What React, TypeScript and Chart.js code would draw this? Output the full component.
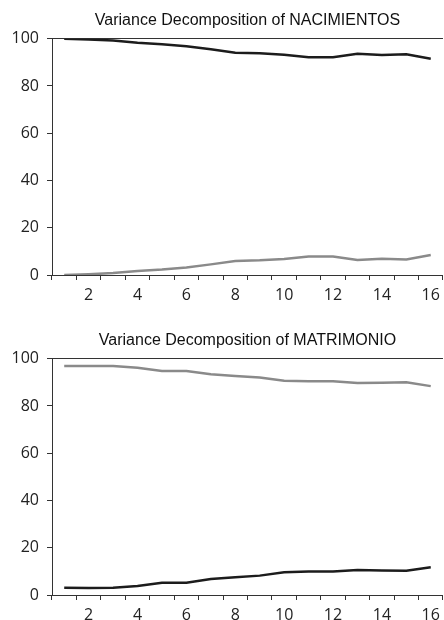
import React, { useEffect, useRef } from "react";
import { Chart, registerables } from "chart.js";
Chart.register(...registerables);

const periods = ["1", "2", "3", "4", "5", "6", "7", "8", "9", "10", "11", "12", "13", "14", "15", "16"];
const yTicks = [0, 20, 40, 60, 80, 100];

const nacTitle = "Variance Decomposition of NACIMIENTOS";
const nacFromNac = [100, 99.7, 99.2, 98.3, 97.7, 96.8, 95.5, 94.1, 93.8, 93.2, 92.2, 92.2, 93.6, 93.1, 93.4, 91.5];
const nacFromMat = [0, 0.3, 0.8, 1.7, 2.3, 3.2, 4.5, 5.9, 6.2, 6.8, 7.8, 7.8, 6.4, 6.9, 6.6, 8.5];

const matTitle = "Variance Decomposition of MATRIMONIO";
const matFromNac = [3.1, 3.0, 3.1, 3.8, 5.2, 5.2, 6.8, 7.5, 8.2, 9.6, 9.9, 9.9, 10.6, 10.4, 10.3, 11.7];
const matFromMat = [96.9, 96.9, 96.9, 96.2, 94.8, 94.8, 93.4, 92.7, 92.0, 90.7, 90.5, 90.5, 89.7, 89.8, 90.0, 88.4];

const BLACK = "#1c1c1c";
const GRAY = "#8a8a8a";
const AXIS = "#333333";
const TICK_FONT = { family: "'Open Sans', 'DejaVu Sans', sans-serif", size: 16 };

function Panel({ title, blackSeries, graySeries, top }: { title: string; blackSeries: number[]; graySeries: number[]; top: number }) {
  const ref = useRef<HTMLCanvasElement | null>(null);
  useEffect(() => {
    if (!ref.current) return;
    const chart = new Chart(ref.current, {
      type: "line",
      data: {
        labels: periods,
        datasets: [
          { label: "NACIMIENTOS", data: blackSeries, borderColor: BLACK, borderWidth: 2.5, pointRadius: 0, tension: 0, fill: false },
          { label: "MATRIMONIO", data: graySeries, borderColor: GRAY, borderWidth: 2.5, pointRadius: 0, tension: 0, fill: false },
        ],
      },
      options: {
        responsive: false,
        animation: false,
        events: [],
        layout: { padding: 0 },
        plugins: {
          legend: { display: false },
          tooltip: { enabled: false },
          title: {
            display: true,
            text: title,
            fullSize: false,
            color: "#111",
            font: { family: "'Liberation Sans', Arial, sans-serif", size: 16, weight: "normal" as any, lineHeight: 1.2 },
            padding: { top: 11, bottom: 8.5 },
          },
        },
        scales: {
          x: {
            type: "category",
            offset: true,
            grid: { offset: true, drawOnChartArea: false, drawTicks: true, tickLength: 5, tickColor: AXIS },
            border: { display: true, color: AXIS, width: 1 },
            ticks: {
              autoSkip: false,
              maxRotation: 0,
              padding: 6,
              color: "#222",
              font: TICK_FONT,
              callback: (_v: any, i: number) => (i % 2 === 1 ? periods[i] : ""),
            },
            afterFit: (s: any) => { s.height = 35; },
          },
          y: {
            min: 0,
            max: 100,
            afterBuildTicks: (s: any) => { s.ticks = yTicks.map((v) => ({ value: v })); },
            grid: {
              drawOnChartArea: true,
              color: (c: any) => (c.tick && c.tick.value === 100 ? AXIS : "rgba(0,0,0,0)"),
              tickColor: AXIS,
              tickLength: 5,
              lineWidth: 1,
            },
            border: { display: true, color: AXIS, width: 1 },
            ticks: { padding: 8, color: "#222", font: TICK_FONT },
            afterFit: (s: any) => { s.width = 52; },
          },
        },
      },
    });
    return () => chart.destroy();
  }, [title, blackSeries, graySeries]);
  return (
    <canvas
      ref={ref}
      width={446}
      height={310}
      style={{ position: "absolute", left: 0, top, width: 446, height: 310, display: "block" }}
    />
  );
}

export default function App() {
  return (
    <div style={{ position: "fixed", left: 0, top: 0, width: 444, height: 620, overflow: "hidden", background: "#fff" }}>
      <Panel title={nacTitle} blackSeries={nacFromNac} graySeries={nacFromMat} top={0} />
      <Panel title={matTitle} blackSeries={matFromNac} graySeries={matFromMat} top={319.5} />
    </div>
  );
}
